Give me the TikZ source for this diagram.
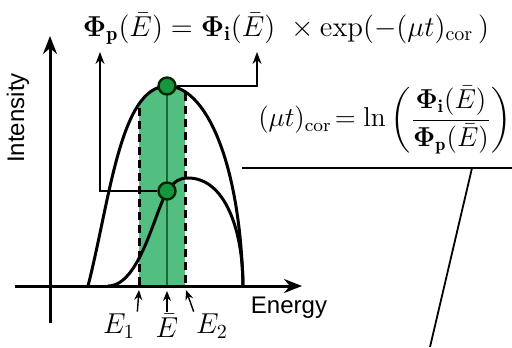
\documentclass[tikz,border=0pt]{standalone}
\usepackage{amsmath}
\usepackage{amssymb}
\usepackage{bm}
\usepackage{fontspec}
\newfontfamily\labelfont{Liberation Sans}
\usepackage{tikz}
\usetikzlibrary{arrows,arrows.meta,positioning,calc}
\definecolor{bandgreen}{RGB}{82,190,128}
\definecolor{dotgreen}{RGB}{22,150,62}
\definecolor{linegreen}{RGB}{25,105,50}

\begin{document}
\begin{tikzpicture}[x=0.5pt, y=-0.5pt,
    axis/.style={line width=1.5pt, -{Stealth[length=9pt, width=7pt]}},
    curve/.style={line width=1.5pt},
    edge/.style={line width=1.5pt, dash pattern=on 4pt off 2.5pt},
    link/.style={line width=0.7pt, -{Stealth[length=6pt, width=4.5pt]}},
    tick/.style={line width=0.7pt, -{Stealth[length=5pt, width=4pt]}},
    dot/.style={circle, draw=black!85!green, line width=1.2pt, fill=dotgreen, minimum size=8.5pt, inner sep=0pt},
    eq/.style={font=\Large, inner sep=0pt},
    lab/.style={font=\labelfont\large, inner sep=0pt},
    elab/.style={font=\Large, inner sep=1pt},
]
\useasboundingbox (0,0) rectangle (512,347);

% Spectrum before and after
\def\outerspec{(88,286) .. controls (110,200) and (120,87) .. (167,86) .. controls (205,86) and (240,160) .. (243,286)}

% Green band between E1 and E2
\begin{scope}
  \clip \outerspec -- cycle;
  \fill[bandgreen] (139,60) rectangle (185,286);
\end{scope}
\draw[linegreen, line width=0.8pt] (167,86) -- (167,286);

% Band edges
\draw[edge] (139,108) -- (139,286);
\draw[edge] (185,93) -- (185,286);

% Incident and transmitted curves
\draw[curve] \outerspec;
\draw[curve] (108,286) .. controls (140,286) and (155,210) .. (167,192)
  .. controls (175,180) and (180,178) .. (188,178)
  .. controls (225,178) and (243,230) .. (243,286);

% Axes
\coordinate (xfrom) at (15,286);
\coordinate (xto) at (302,286);
\coordinate (yfrom) at (50,323);
\coordinate (yto) at (50,36);
\draw[axis] (xfrom) -- (xto);
\draw[axis] (yfrom) -- (yto);
\node[lab, rotate=90] (ylab) at (18,118) {Intensity};
\node[lab] (xlab) at (289,308) {Energy};

% Points at mean energy
\node[dot] (ptop) at (167,86) {};
\node[dot] (pbot) at (167,191) {};

% Formulas
\node[eq] (law) at (286,29) {$\boldsymbol{\Phi}_{\mathbf{p}}(\bar{E}) = \boldsymbol{\Phi}_{\mathbf{i}}(\bar{E})\ \times \exp(-(\mu t)_{\mathrm{cor}}\,)$};
\node[eq, font=\large, scale=1.14] (ratio) at (385,120) {$(\mu t)_{\mathrm{cor}}\!= \ln\left(\dfrac{\boldsymbol{\Phi}_{\mathbf{i}}(\bar{E})}{\boldsymbol{\Phi}_{\mathbf{p}}(\bar{E})}\right)$};

\coordinate (tgtp) at (100,52);
\coordinate (tgti) at (257,52);
\draw[link] (pbot.west) -| (tgtp);
\draw[link] (ptop.east) -| (tgti);

% Energy labels
\node[elab] (e1) at (119,326) {$E_1$};
\node[elab] (em) at (167,326) {$\bar{E}$};
\node[elab] (e2) at (212,326) {$E_2$};
\coordinate (k1) at (139,290);
\coordinate (km) at (167,291);
\coordinate (k2) at (186,290);
\draw[tick] (e1.north east) -- (k1);
\draw[tick] (em.north) -- (km);
\draw[tick] (e2.north west) -- (k2);

% Cut lines on the right
\coordinate (cl) at (242,168);
\coordinate (cr) at (512,168);
\coordinate (ct) at (472,168);
\coordinate (cb) at (430,347);
\draw[line width=1.2pt] (cl) -- (cr);
\draw[line width=0.9pt] (ct) -- (cb);

\end{tikzpicture}
\end{document}
